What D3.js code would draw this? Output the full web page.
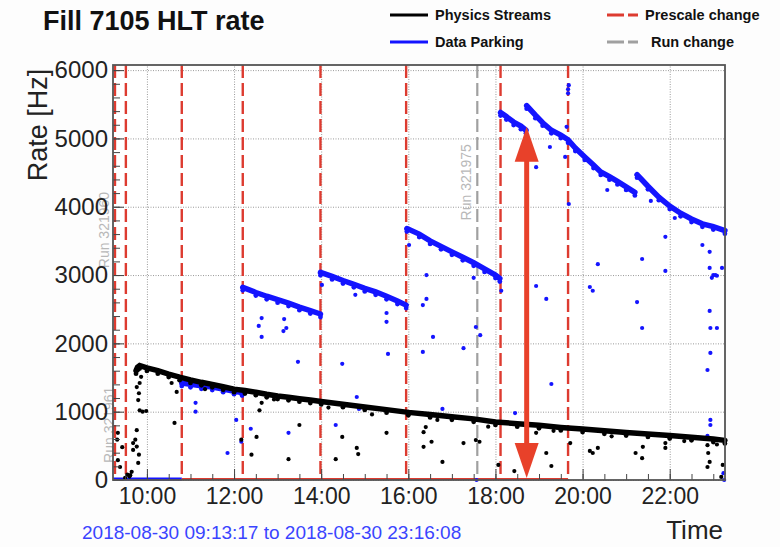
<!DOCTYPE html>
<html>
<head>
<meta charset="utf-8">
<script src="https://cdn.jsdelivr.net/npm/d3@7"></script>
<style>
  body { margin: 0; background: #fdfdfd; }
  text { font-family: "Liberation Sans", Arial, sans-serif; }
</style>
</head>
<body>
<svg id="canvas" width="780" height="547"></svg>
<script>
let dayStart = "09:13:17"
let dayEnd = "23:16:08"

let rateTicks = [0, 1000, 2000, 3000, 4000, 5000, 6000]

let prescaleTimes = ["09:16", "09:31", "10:48", "12:12", "13:59", "15:57", "18:07", "19:40"]
let runChangeTimes = ["17:35"]
let runLabels = [["09:16", 3100, "Run 321960"], ["09:23", 250, "Run 321961"], ["17:35", 3800, "Run 321975"]]

let physicsCurve = [
    ["09:45", 1600], ["09:47", 1650], ["09:50", 1675], ["10:00", 1640], ["10:15", 1600], ["10:30", 1550],
    ["10:45", 1505], ["11:00", 1465], ["11:15", 1430], ["11:30", 1400], ["11:45", 1365], ["12:00", 1330],
    ["12:15", 1310], ["12:30", 1285], ["12:45", 1255], ["13:00", 1230], ["13:15", 1210], ["13:30", 1190],
    ["13:45", 1170], ["14:00", 1150], ["14:30", 1110], ["15:00", 1070], ["15:30", 1030], ["16:00", 990],
    ["16:30", 960], ["17:00", 925], ["17:30", 895], ["18:00", 850], ["18:30", 825], ["19:00", 800],
    ["19:30", 770], ["20:00", 745], ["20:30", 720], ["21:00", 695], ["21:30", 675], ["22:00", 650],
    ["22:30", 625], ["23:00", 600], ["23:16", 580]
]

let physicsOutliers = [
    ["09:19", 590], ["09:20", 690], ["09:20", 290], ["09:23", 190], ["09:26", 480], ["09:30", 30],
    ["09:33", 80], ["09:36", 50], ["09:37", 70], ["09:39", 120], ["09:41", 540], ["09:41", 440],
    ["09:44", 590], ["09:46", 730], ["09:46", 1360], ["09:46", 490], ["09:48", 1170], ["09:48", 250],
    ["09:49", 1270], ["09:49", 370], ["09:50", 1020], ["09:50", 1420], ["09:52", 1510], ["09:54", 1000],
    ["09:59", 1010], ["10:34", 1420], ["10:38", 835], ["10:41", 1290], ["12:10", 590], ["12:24", 370],
    ["12:31", 630], ["12:35", 1020], ["12:38", 1130], ["13:15", 305], ["13:30", 805], ["14:20", 305],
    ["14:29", 630], ["14:49", 470], ["14:51", 380], ["15:30", 690], ["16:21", 700], ["16:24", 775],
    ["16:21", 485], ["16:32", 560], ["16:47", 265], ["17:16", 540], ["17:33", 585], ["17:38", 560],
    ["18:04", 220], ["18:26", 130], ["18:56", 690], ["19:10", 395], ["19:17", 205], ["19:43", 540],
    ["20:10", 425], ["20:14", 395], ["20:21", 470], ["21:13", 395], ["21:22", 320], ["21:23", 485],
    ["21:54", 540], ["21:54", 470], ["22:52", 510], ["22:53", 395], ["22:55", 265], ["22:52", 190],
    ["23:13", 220], ["23:11", 45], ["11:20", 1330], ["12:55", 1180], ["14:10", 1060], ["15:10", 960],
    ["16:40", 880], ["17:50", 780], ["19:20", 720], ["20:40", 640], ["22:20", 570], ["23:05", 520]
]

let parkingFills = [
    [["10:48", 1420], ["11:00", 1400], ["11:15", 1380], ["11:30", 1360], ["11:45", 1330], ["12:00", 1300], ["12:11", 1280]],
    [["12:12", 2820], ["12:30", 2745], ["12:45", 2690], ["13:00", 2640], ["13:15", 2590], ["13:30", 2530], ["13:45", 2480], ["13:59", 2430]],
    [["13:59", 3040], ["14:15", 2980], ["14:30", 2920], ["14:45", 2865], ["15:00", 2805], ["15:15", 2755], ["15:30", 2690], ["15:45", 2620], ["15:57", 2560]],
    [["15:58", 3680], ["16:15", 3600], ["16:30", 3500], ["16:45", 3420], ["17:00", 3340], ["17:15", 3260], ["17:30", 3180], ["17:45", 3090], ["18:00", 3000], ["18:06", 2950]],
    [["18:07", 5380], ["18:15", 5320], ["18:25", 5240], ["18:35", 5180], ["18:42", 5120]],
    [["18:43", 5480], ["18:55", 5340], ["19:05", 5230], ["19:17", 5120], ["19:30", 5050], ["19:40", 4980], ["19:50", 4860], ["20:03", 4730], ["20:15", 4610], ["20:25", 4510], ["20:37", 4440], ["20:48", 4370], ["21:00", 4290], ["21:12", 4210]],
    [["21:15", 4470], ["21:30", 4300], ["21:45", 4140], ["22:00", 4010], ["22:15", 3905], ["22:30", 3820], ["22:45", 3750], ["23:00", 3710], ["23:16", 3650]]
]

let parkingOutliers = [
    ["11:07", 1130], ["11:07", 1000], ["11:51", 395], ["12:03", 880], ["12:10", 560], ["12:23", 750],
    ["12:38", 2370], ["12:34", 2255], ["12:38", 2095], ["13:09", 2355], ["13:08", 2180], ["13:12", 2225],
    ["13:28", 1730], ["13:15", 690], ["14:01", 2855], ["14:29", 1700], ["14:49", 1215], ["14:47", 2710],
    ["14:20", 805], ["14:52", 1040], ["15:30", 2445], ["15:30", 2315], ["15:32", 1845], ["16:01", 3440],
    ["16:25", 3000], ["16:20", 2560], ["16:25", 2650], ["16:34", 2095], ["16:20", 1875], ["16:47", 1040],
    ["17:16", 1930], ["17:33", 2240], ["17:39", 2120], ["17:30", 2960], ["17:34", 0], ["18:08", 2770],
    ["18:27", 980], ["18:56", 4580], ["19:15", 4875], ["19:36", 4730], ["19:38", 5170], ["19:41", 4040],
    ["19:40", 5660], ["19:40", 5720], ["19:41", 5780], ["18:56", 2840], ["19:10", 2650], ["19:17", 1405],
    ["20:10", 2825], ["20:14", 2770], ["20:21", 3160], ["20:34", 4245], ["21:15", 2605], ["21:22", 2225],
    ["21:22", 3235], ["21:34", 4085], ["21:54", 3560], ["21:54", 3060], ["22:07", 3835], ["22:45", 3440],
    ["22:55", 3340], ["22:55", 3105], ["22:58", 2960], ["23:00", 3000], ["23:03", 3000], ["23:05", 2990],
    ["23:12", 3105], ["22:55", 2475], ["22:56", 2225], ["23:05", 2225], ["22:56", 1860], ["22:52", 1610],
    ["22:56", 880], ["22:56", 805], ["22:52", 645], ["23:15", 0], ["23:14", 100]
]

let arrowTime = "18:43"
let arrowTop = 5170
let arrowBottom = 30

let parseTime = (s) => {
    let full = s.length === 5 ? s + ":00" : s
    return d3.timeParse("%Y-%m-%d %H:%M:%S")("2018-08-30 " + full)
}

let canvas = d3.select("#canvas")

let plotLeft = 113
let plotRight = 725
let plotTop = 65
let plotBottom = 480

let xScale = d3.scaleTime()
    .domain([parseTime(dayStart), parseTime(dayEnd)])
    .range([plotLeft, plotRight])

let yScale = d3.scaleLinear()
    .domain([0, 6075])
    .range([plotBottom, plotTop])

let red = "#dd3b30"
let blue = "#1414ff"

canvas.append("rect")
    .attr("width", 780).attr("height", 547)
    .attr("fill", "#fdfdfd")

canvas.append("rect")
    .attr("x", plotLeft).attr("y", plotTop)
    .attr("width", plotRight - plotLeft).attr("height", plotBottom - plotTop)
    .attr("fill", "white")

// grid
canvas.append("g")
    .attr("transform", "translate(0," + plotBottom + ")")
    .call(d3.axisBottom(xScale).ticks(d3.timeHour.every(2)).tickSize(-(plotBottom - plotTop)).tickFormat(""))
    .call(g => g.select(".domain").remove())
    .selectAll("line")
    .attr("stroke", "#9a9a9a")
    .attr("stroke-dasharray", "1,1.5")

canvas.append("g")
    .attr("transform", "translate(" + plotLeft + ",0)")
    .call(d3.axisLeft(yScale).tickValues(rateTicks).tickSize(-(plotRight - plotLeft)).tickFormat(""))
    .call(g => g.select(".domain").remove())
    .selectAll("line")
    .attr("stroke", "#9a9a9a")
    .attr("stroke-dasharray", "1,1.5")

// zero-level lines
canvas.append("line")
    .attr("x1", xScale(parseTime("10:48"))).attr("x2", xScale(parseTime("19:40")))
    .attr("y1", yScale(0) - 1).attr("y2", yScale(0) - 1)
    .attr("stroke", red).attr("stroke-width", 2)

canvas.append("line")
    .attr("x1", xScale(parseTime(dayStart))).attr("x2", xScale(parseTime("10:48")))
    .attr("y1", yScale(0) - 1).attr("y2", yScale(0) - 1)
    .attr("stroke", blue).attr("stroke-width", 3)

// run change and prescale lines
canvas.selectAll(".run-line")
    .data(runChangeTimes)
    .enter()
    .append("line")
    .attr("class", "run-line")
    .attr("x1", d => xScale(parseTime(d))).attr("x2", d => xScale(parseTime(d)))
    .attr("y1", plotTop).attr("y2", plotBottom)
    .attr("stroke", "#a0a0a0").attr("stroke-width", 2.2)
    .attr("stroke-dasharray", "13,5")

canvas.selectAll(".run-label")
    .data(runLabels)
    .enter()
    .append("text")
    .attr("class", "run-label")
    .attr("transform", d => "translate(" + (xScale(parseTime(d[0])) - 6) + "," + yScale(d[1]) + ") rotate(-90)")
    .attr("fill", "#b8b8b8")
    .style("font-size", "14px")
    .text(d => d[2])

canvas.selectAll(".prescale-line")
    .data(prescaleTimes)
    .enter()
    .append("line")
    .attr("class", "prescale-line")
    .attr("x1", d => xScale(parseTime(d))).attr("x2", d => xScale(parseTime(d)))
    .attr("y1", plotTop).attr("y2", plotBottom)
    .attr("stroke", red).attr("stroke-width", 2.4)
    .attr("stroke-dasharray", "13,5")

// data parking
let line = d3.line()
    .x(d => xScale(parseTime(d[0])))
    .y(d => yScale(d[1]))

parkingFills.forEach((fill) => {
    canvas.append("path")
        .datum(fill)
        .attr("d", line)
        .attr("fill", "none")
        .attr("stroke", blue)
        .attr("stroke-width", 5.5)
        .attr("stroke-linecap", "round")
    canvas.append("g")
        .selectAll("circle")
        .data(fill)
        .enter()
        .append("circle")
        .attr("cx", d => xScale(parseTime(d[0])))
        .attr("cy", d => yScale(d[1]) + 3)
        .attr("r", 2.4)
        .attr("fill", blue)
})

canvas.append("g")
    .selectAll("circle")
    .data(parkingOutliers)
    .enter()
    .append("circle")
    .attr("cx", d => xScale(parseTime(d[0])))
    .attr("cy", d => yScale(d[1]))
    .attr("r", 2.1)
    .attr("fill", blue)

// physics streams
canvas.append("path")
    .datum(physicsCurve)
    .attr("d", line)
    .attr("fill", "none")
    .attr("stroke", "black")
    .attr("stroke-width", 5.5)
    .attr("stroke-linecap", "round")

canvas.append("g")
    .selectAll("circle")
    .data(physicsCurve)
    .enter()
    .append("circle")
    .attr("cx", d => xScale(parseTime(d[0])))
    .attr("cy", d => yScale(d[1]) + 3)
    .attr("r", 2.4)
    .attr("fill", "black")

canvas.append("g")
    .selectAll("circle")
    .data(physicsOutliers)
    .enter()
    .append("circle")
    .attr("cx", d => xScale(parseTime(d[0])))
    .attr("cy", d => yScale(d[1]))
    .attr("r", 2.1)
    .attr("fill", "black")

// arrow
let ax = xScale(parseTime(arrowTime))
let ayTop = yScale(arrowTop)
let ayBottom = yScale(arrowBottom)
let headLength = 35
let headHalf = 12
let arrowColor = "#e8412a"

canvas.append("line")
    .attr("x1", ax).attr("x2", ax)
    .attr("y1", ayTop + headLength - 2).attr("y2", ayBottom - headLength + 2)
    .attr("stroke", arrowColor).attr("stroke-width", 5)

canvas.append("path")
    .attr("d", "M" + ax + "," + ayTop + "L" + (ax - headHalf) + "," + (ayTop + headLength) + "L" + (ax + headHalf) + "," + (ayTop + headLength) + "Z")
    .attr("fill", arrowColor)

canvas.append("path")
    .attr("d", "M" + ax + "," + ayBottom + "L" + (ax - headHalf) + "," + (ayBottom - headLength) + "L" + (ax + headHalf) + "," + (ayBottom - headLength) + "Z")
    .attr("fill", arrowColor)

// axes
let xAxis = canvas.append("g")
    .attr("transform", "translate(0," + plotBottom + ")")
    .call(d3.axisBottom(xScale).ticks(d3.timeHour.every(2)).tickSize(-11).tickPadding(8).tickFormat(d3.timeFormat("%H:%M")))

xAxis.select(".domain").remove()
xAxis.selectAll("line").attr("stroke", "#444")
xAxis.selectAll("text")
    .style("font-size", "23px")
    .attr("fill", "#222")

canvas.append("g")
    .attr("transform", "translate(0," + plotBottom + ")")
    .call(d3.axisBottom(xScale).ticks(d3.timeMinute.every(30)).tickSize(-6).tickFormat(""))
    .call(g => g.select(".domain").remove())
    .selectAll("line").attr("stroke", "#444")

let yAxis = canvas.append("g")
    .attr("transform", "translate(" + plotLeft + ",0)")
    .call(d3.axisLeft(yScale).tickValues(rateTicks).tickSize(-11).tickPadding(5).tickFormat(d3.format("d")))

yAxis.select(".domain").remove()
yAxis.selectAll("line").attr("stroke", "#444")
yAxis.selectAll("text")
    .style("font-size", "24px")
    .attr("fill", "#222")

canvas.append("g")
    .attr("transform", "translate(" + plotLeft + ",0)")
    .call(d3.axisLeft(yScale).tickValues(d3.range(0, 6001, 200)).tickSize(-7).tickFormat(""))
    .call(g => g.select(".domain").remove())
    .selectAll("line").attr("stroke", "#444")

// frame
canvas.append("rect")
    .attr("x", plotLeft).attr("y", plotTop)
    .attr("width", plotRight - plotLeft).attr("height", plotBottom - plotTop)
    .attr("fill", "none")
    .attr("stroke", "#555")
    .attr("stroke-width", 1.8)

// titles
canvas.append("text")
    .attr("x", 43).attr("y", 30)
    .style("font-size", "27px")
    .style("font-weight", "bold")
    .attr("fill", "#111")
    .text("Fill 7105 HLT rate")

canvas.append("text")
    .attr("transform", "translate(47,125) rotate(-90)")
    .attr("text-anchor", "middle")
    .style("font-size", "27px")
    .attr("fill", "#222")
    .text("Rate [Hz]")

canvas.append("text")
    .attr("x", 723).attr("y", 539)
    .attr("text-anchor", "end")
    .style("font-size", "26px")
    .attr("fill", "#222")
    .text("Time")

canvas.append("text")
    .attr("x", 82).attr("y", 539)
    .style("font-size", "19px")
    .attr("fill", "#3a44ff")
    .text("2018-08-30 " + dayStart + " to 2018-08-30 " + dayEnd)

// legend
let legendItems = [
    { label: "Physics Streams", color: "black", dash: null, x: 390, y: 15 },
    { label: "Data Parking", color: blue, dash: null, x: 390, y: 42 },
    { label: "Prescale change", color: red, dash: "17,4", x: 607, y: 15 },
    { label: "Run change", color: "#a0a0a0", dash: "17,4", x: 607, y: 42 }
]

let legendGroup = canvas.selectAll(".legend")
    .data(legendItems)
    .enter()
    .append("g")
    .attr("class", "legend")
    .attr("transform", d => "translate(" + d.x + "," + d.y + ")")

legendGroup.append("line")
    .attr("x1", 0).attr("x2", d => d.dash ? 31 : 38)
    .attr("stroke", d => d.color)
    .attr("stroke-width", 3)
    .attr("stroke-dasharray", d => d.dash)

legendGroup.append("text")
    .attr("x", d => d.dash ? (d.label === "Run change" ? 44 : 38) : 45)
    .attr("y", 5)
    .style("font-size", "14.5px")
    .style("font-weight", "bold")
    .attr("fill", "#111")
    .text(d => d.label)
</script>
</body>
</html>
